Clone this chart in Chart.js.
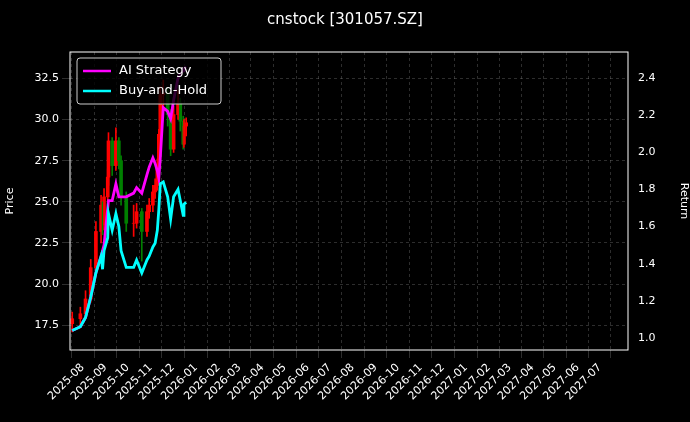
<!DOCTYPE html>
<html lang="en">
<head>
  <meta charset="UTF-8" />
  <title>cnstock [301057.SZ]</title>
  <script src="https://cdn.jsdelivr.net/npm/chart.js"></script>
  <style>
    body { margin: 0; background: #000; }
  </style>
</head>
<body>
  <canvas id="chart" width="690" height="422"></canvas>
  <script>
    // dates of sampled sessions
    const dates = ["2025-07-18","2025-07-29","2025-08-05","2025-08-12","2025-08-19","2025-08-26","2025-08-28","2025-08-30",
      "2025-09-04","2025-09-05","2025-09-10","2025-09-15","2025-09-19","2025-09-22","2025-09-29","2025-10-09","2025-10-13",
      "2025-10-20","2025-10-27","2025-10-30","2025-11-04","2025-11-07","2025-11-10","2025-11-12","2025-11-14","2025-11-18",
      "2025-11-24","2025-11-28","2025-12-02","2025-12-08","2025-12-11","2025-12-15","2025-12-16","2025-12-19"];
    const open  = [17.6,17.9,18.2,19.1,21.0,23.2,24.8,23.6,25.3,26.5,28.7,27.2,28.7,27.5,25.3,23.7,23.7,24.4,23.2,24.4,24.8,25.6,26.0,27.2,29.1,31.5,31.6,30.3,28.2,30.3,31.0,29.9,28.5,29.6];
    const high  = [18.3,18.6,19.6,21.5,23.8,25.4,25.0,25.8,27.0,29.2,28.9,29.5,28.9,27.8,25.6,24.8,24.9,24.6,24.8,25.2,26.0,26.4,27.6,29.4,32.0,32.4,31.9,30.6,30.8,31.8,31.3,30.2,30.0,30.1];
    const low   = [17.1,17.4,18.0,18.9,20.6,22.5,23.0,23.3,24.8,26.0,26.6,26.9,27.0,24.8,23.2,22.9,23.4,21.4,22.9,24.0,24.4,25.2,25.7,27.0,28.8,30.5,29.6,27.8,28.0,30.0,29.3,28.2,28.3,29.0];
    const close = [17.9,18.2,19.1,21.0,23.2,24.8,23.6,25.3,26.5,28.7,27.2,28.7,27.5,25.3,23.7,23.7,24.4,23.2,24.4,24.8,25.6,26.0,27.2,29.1,31.5,31.6,30.3,28.2,30.3,31.0,29.9,28.5,29.6,29.8];
    const aiReturn = [1.04,1.06,1.11,1.22,1.35,1.44,1.47,1.50,1.70,1.74,1.74,1.83,1.76,1.76,1.76,1.78,1.81,1.78,1.88,1.92,1.97,1.94,1.90,1.86,1.97,2.24,2.22,2.18,2.28,2.40,2.42,2.44,2.45,2.46];
    const bhReturn = [1.04,1.06,1.11,1.22,1.35,1.44,1.37,1.47,1.54,1.67,1.58,1.67,1.60,1.47,1.38,1.38,1.42,1.35,1.42,1.44,1.49,1.51,1.58,1.69,1.83,1.84,1.76,1.64,1.76,1.80,1.74,1.66,1.72,1.73];
    const priceTicks = [17.5, 20, 22.5, 25, 27.5, 30, 32.5];
    const returnTicks = [1.0, 1.2, 1.4, 1.6, 1.8, 2.0, 2.2, 2.4];
    const xStart = "2025-07-15", xEnd = "2027-08-08";

    const base = Date.UTC(2025, 6, 1);
    const day = s => (Date.parse(s + "T00:00:00Z") - base) / 86400000;
    const xs = dates.map(day);
    const up = i => close[i] >= open[i];
    const candleColor = ctx => up(ctx.dataIndex) ? "#ff0000" : "#008000";

    const monthTicks = [];
    for (let k = 0; k < 24; k++) {
      monthTicks.push((Date.UTC(2025, 7 + k, 1) - base) / 86400000);
    }
    const fmt = v => {
      const d = new Date(base + v * 86400000);
      return d.getUTCFullYear() + "-" + String(d.getUTCMonth() + 1).padStart(2, "0");
    };

    const font = { family: "'DejaVu Sans'", size: 11 };
    const grid = { color: "rgba(150,150,150,0.5)", lineWidth: 0.6 };
    const border = { display: false, dash: [3, 3] };

    const chrome = {
      id: "chrome",
      beforeDraw(c) {
        const g = c.ctx;
        g.save(); g.fillStyle = "#000"; g.fillRect(0, 0, c.width, c.height); g.restore();
      },
      afterDraw(c) {
        const g = c.ctx, a = c.chartArea;
        g.save();
        g.strokeStyle = "#fff"; g.lineWidth = 1;
        g.strokeRect(a.left, a.top, a.right - a.left, a.bottom - a.top);
        g.fillStyle = "#fff"; g.font = "15px 'DejaVu Sans'"; g.textAlign = "center";
        g.fillText("cnstock [301057.SZ]", 345, 24);
        // legend
        const lx = a.left + 7, ly = a.top + 6;
        g.fillStyle = "rgba(0,0,0,0.8)"; g.strokeStyle = "#ccc";
        g.beginPath(); g.roundRect(lx, ly, 144, 46, 3); g.fill(); g.stroke();
        g.font = "13px 'DejaVu Sans'"; g.textAlign = "left"; g.textBaseline = "middle";
        [["AI Strategy", "#ff00ff"], ["Buy-and-Hold", "#00ffff"]].forEach(([t, col], i) => {
          const yy = ly + 13 + i * 20;
          g.strokeStyle = col; g.lineWidth = 2.5;
          g.beginPath(); g.moveTo(lx + 6, yy); g.lineTo(lx + 34, yy); g.stroke();
          g.fillStyle = "#fff"; g.fillText(t, lx + 42, yy);
        });
        g.restore();
      }
    };

    new Chart(document.getElementById("chart"), {
      data: {
        datasets: [
          { type: "bar", data: xs.map((x, i) => ({ x, y: [low[i], high[i]] })), backgroundColor: candleColor,
            barThickness: 1, grouped: false, yAxisID: "y", order: 3 },
          { type: "bar", data: xs.map((x, i) => ({ x, y: [Math.min(open[i], close[i]), Math.max(open[i], close[i])] })),
            backgroundColor: candleColor, barThickness: 3, grouped: false, yAxisID: "y", order: 3 },
          { type: "line", label: "AI Strategy", data: xs.map((x, i) => ({ x, y: aiReturn[i] })), borderColor: "#ff00ff",
            borderWidth: 2.8, pointRadius: 0, yAxisID: "y1", order: 2 },
          { type: "line", label: "Buy-and-Hold", data: xs.map((x, i) => ({ x, y: bhReturn[i] })), borderColor: "#00ffff",
            borderWidth: 2.8, pointRadius: 0, yAxisID: "y1", order: 1 }
        ]
      },
      options: {
        responsive: false, animation: false, devicePixelRatio: 1,
        layout: { padding: { top: 52 } },
        plugins: { legend: { display: false }, tooltip: { enabled: false } },
        scales: {
          x: {
            type: "linear", min: day(xStart), max: day(xEnd), offset: false,
            afterBuildTicks: s => { s.ticks = monthTicks.map(v => ({ value: v })); },
            afterFit: s => { s.height = 72; },
            ticks: { color: "#fff", font, maxRotation: 45, minRotation: 45, autoSkip: false, callback: fmt },
            grid, border
          },
          y: {
            position: "left", min: 16.0, max: 34.1,
            afterBuildTicks: s => { s.ticks = priceTicks.map(v => ({ value: v })); },
            afterFit: s => { s.width = 70; },
            ticks: { color: "#fff", font, autoSkip: false, callback: v => v.toFixed(1) },
            title: { display: true, text: "Price", color: "#fff", font },
            grid, border
          },
          y1: {
            position: "right", min: 0.935, max: 2.54,
            afterBuildTicks: s => { s.ticks = returnTicks.map(v => ({ value: v })); },
            afterFit: s => { s.width = 62; },
            ticks: { color: "#fff", font, autoSkip: false, padding: 2, callback: v => v.toFixed(1) },
            title: { display: true, text: "Return", color: "#fff", font, padding: { top: 0, bottom: 10 } },
            grid: { display: false }, border: { display: false }
          }
        }
      },
      plugins: [chrome]
    });
  </script>
</body>
</html>
